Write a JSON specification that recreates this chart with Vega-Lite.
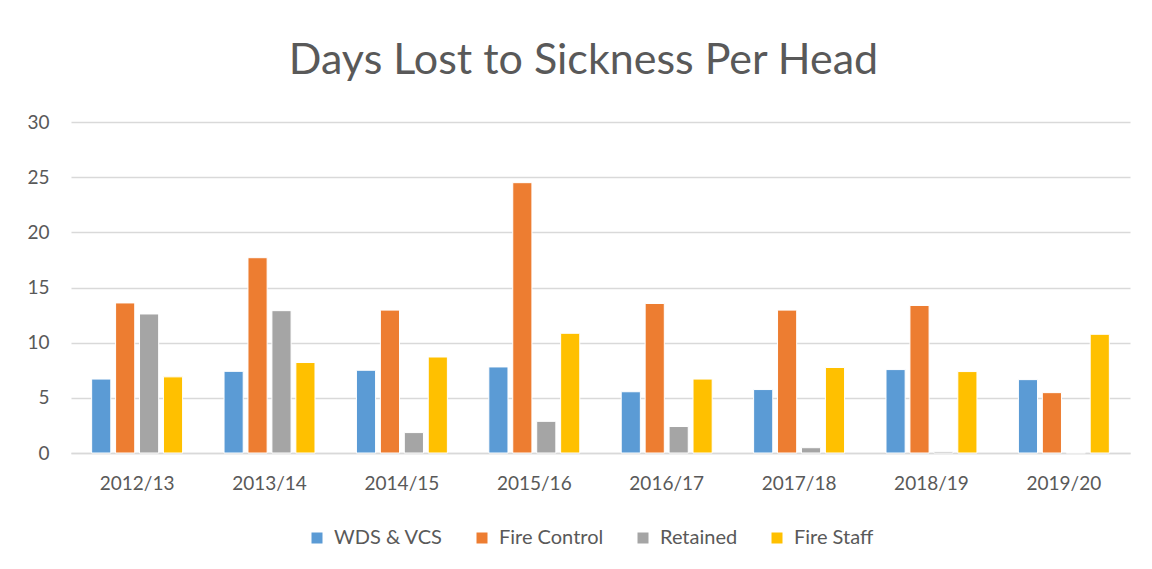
{
  "$schema": "https://vega.github.io/schema/vega-lite/v6.json",
  "width": 1059,
  "height": 331,
  "autosize": {"type": "none"},
  "padding": {"left": 71, "top": 122, "right": 22, "bottom": 116},
  "background": "white",
  "title": {
    "text": "Days Lost to Sickness Per Head",
    "font": "Lato",
    "fontSize": 43,
    "fontWeight": "normal",
    "color": "#595959",
    "anchor": "middle",
    "dx": -17,
    "offset": 30
  },
  "data": {
    "values": [
      {"year": "2012/13", "group": "WDS & VCS", "days": 6.7},
      {"year": "2012/13", "group": "Fire Control", "days": 13.6},
      {"year": "2012/13", "group": "Retained", "days": 12.6},
      {"year": "2012/13", "group": "Fire Staff", "days": 6.9},
      {"year": "2013/14", "group": "WDS & VCS", "days": 7.4},
      {"year": "2013/14", "group": "Fire Control", "days": 17.7},
      {"year": "2013/14", "group": "Retained", "days": 12.9},
      {"year": "2013/14", "group": "Fire Staff", "days": 8.2},
      {"year": "2014/15", "group": "WDS & VCS", "days": 7.5},
      {"year": "2014/15", "group": "Fire Control", "days": 12.95},
      {"year": "2014/15", "group": "Retained", "days": 1.85},
      {"year": "2014/15", "group": "Fire Staff", "days": 8.7},
      {"year": "2015/16", "group": "WDS & VCS", "days": 7.8},
      {"year": "2015/16", "group": "Fire Control", "days": 24.5},
      {"year": "2015/16", "group": "Retained", "days": 2.87},
      {"year": "2015/16", "group": "Fire Staff", "days": 10.85},
      {"year": "2016/17", "group": "WDS & VCS", "days": 5.55},
      {"year": "2016/17", "group": "Fire Control", "days": 13.55},
      {"year": "2016/17", "group": "Retained", "days": 2.4},
      {"year": "2016/17", "group": "Fire Staff", "days": 6.7},
      {"year": "2017/18", "group": "WDS & VCS", "days": 5.75},
      {"year": "2017/18", "group": "Fire Control", "days": 12.95},
      {"year": "2017/18", "group": "Retained", "days": 0.48},
      {"year": "2017/18", "group": "Fire Staff", "days": 7.75},
      {"year": "2018/19", "group": "WDS & VCS", "days": 7.56},
      {"year": "2018/19", "group": "Fire Control", "days": 13.37},
      {"year": "2018/19", "group": "Retained", "days": 0.12},
      {"year": "2018/19", "group": "Fire Staff", "days": 7.38},
      {"year": "2019/20", "group": "WDS & VCS", "days": 6.65},
      {"year": "2019/20", "group": "Fire Control", "days": 5.47},
      {"year": "2019/20", "group": "Retained", "days": 0.05},
      {"year": "2019/20", "group": "Fire Staff", "days": 10.76}
    ]
  },
  "mark": {"type": "bar", "stroke": "white", "strokeWidth": 1},
  "encoding": {
    "x": {
      "field": "year",
      "type": "nominal",
      "sort": null,
      "scale": {"paddingInner": 0.313, "paddingOuter": 0.156},
      "axis": {
        "title": null,
        "labelAngle": 0,
        "labelFont": "Lato",
        "labelFontSize": 19,
        "labelColor": "#595959",
        "labelPadding": 21,
        "ticks": false,
        "domainColor": "#d9d9d9",
        "domainWidth": 1.5,
        "grid": false
      }
    },
    "xOffset": {
      "field": "group",
      "type": "nominal",
      "sort": ["WDS & VCS", "Fire Control", "Retained", "Fire Staff"],
      "scale": {"paddingInner": 0.2, "paddingOuter": 0}
    },
    "y": {
      "field": "days",
      "type": "quantitative",
      "scale": {"domain": [0, 30], "nice": false},
      "axis": {
        "title": null,
        "values": [0, 5, 10, 15, 20, 25, 30],
        "labelFont": "Lato",
        "labelFontSize": 19,
        "labelColor": "#595959",
        "labelPadding": 22,
        "ticks": false,
        "domain": false,
        "gridColor": "#d9d9d9",
        "gridWidth": 1.5
      }
    },
    "color": {
      "field": "group",
      "type": "nominal",
      "sort": ["WDS & VCS", "Fire Control", "Retained", "Fire Staff"],
      "scale": {
        "domain": ["WDS & VCS", "Fire Control", "Retained", "Fire Staff"],
        "range": ["#5B9BD5", "#ED7D31", "#A5A5A5", "#FFC000"]
      },
      "legend": {
        "title": null,
        "orient": "none",
        "direction": "horizontal",
        "legendX": 236,
        "legendY": 406,
        "symbolType": "square",
        "symbolSize": 121,
        "symbolStrokeWidth": 0,
        "labelFont": "Lato",
        "labelFontSize": 20,
        "labelColor": "#595959",
        "labelOffset": 7,
        "columnPadding": 29
      }
    }
  },
  "config": {
    "view": {"stroke": null}
  }
}
